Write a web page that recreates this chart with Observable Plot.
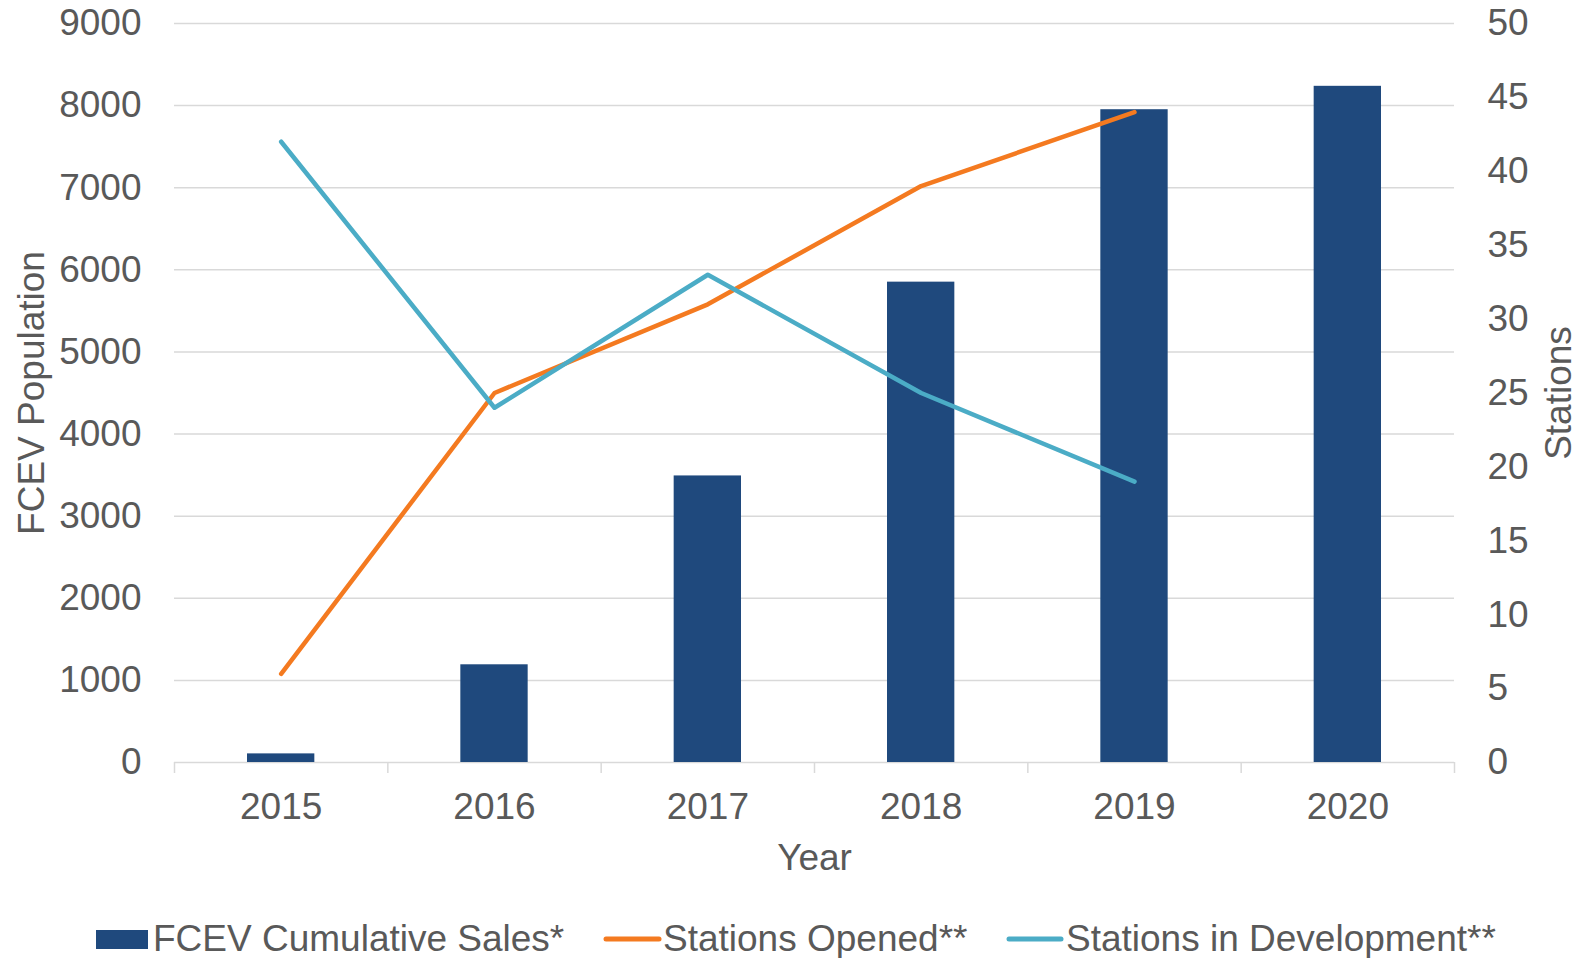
<!DOCTYPE html>
<html><head><meta charset="utf-8">
<script src="https://cdn.jsdelivr.net/npm/d3@7"></script>
<script src="https://cdn.jsdelivr.net/npm/@observablehq/plot@0.6"></script>
<style>
body{margin:0;background:#fff;font-family:"Liberation Sans",Arial,sans-serif;}
#chart svg{display:block;}
</style>
</head><body><div id="chart"></div><script>
const years = [2015, 2016, 2017, 2018, 2019, 2020];
const sales = [105, 1190, 3490, 5850, 7950, 8235];
const lineYears = [2015, 2016, 2017, 2018, 2019];
const stationsOpened = [6, 25, 31, 39, 44];
const stationsInDev = [42, 24, 33, 25, 19];
const leftTicks = [0, 1000, 2000, 3000, 4000, 5000, 6000, 7000, 8000, 9000];
const rightTicks = [0, 5, 10, 15, 20, 25, 30, 35, 40, 45, 50];
const seriesNames = ["FCEV Cumulative Sales*", "Stations Opened**", "Stations in Development**"];
const colors = ["#1F497D", "#F47A20", "#4BACC6"];

const ratio = 9000 / 50;
const textColor = "#595959";
const gridColor = "#d9d9d9";

const barData = years.map((y, i) => ({year: y, v: sales[i]}));
const openedData = lineYears.map((y, i) => ({year: y, v: stationsOpened[i] * ratio}));
const devData = lineYears.map((y, i) => ({year: y, v: stationsInDev[i] * ratio}));
const boundaries = years.map(y => y - 0.5).concat([years[years.length - 1] + 0.5]);

const chart = Plot.plot({
  width: 1583,
  height: 890,
  marginLeft: 174,
  marginRight: 129,
  marginTop: 23,
  marginBottom: 128,
  style: {fontFamily: '"Liberation Sans", Arial, sans-serif', fontSize: "37px", color: textColor, background: "white", overflow: "visible"},
  x: {type: "linear", domain: [boundaries[0], boundaries[boundaries.length - 1]]},
  y: {type: "linear", domain: [0, 9000]},
  marks: [
    Plot.gridY(leftTicks.slice(1), {stroke: gridColor, strokeOpacity: 1, strokeWidth: 1.5}),
    Plot.ruleY([0], {stroke: gridColor, strokeWidth: 1.5}),
    Plot.axisX(boundaries, {anchor: "bottom", tickSize: 11, tickFormat: () => "", stroke: gridColor, strokeWidth: 1.5, label: null}),
    Plot.axisX(years, {anchor: "bottom", tickSize: 0, tickPadding: 30, tickFormat: d => String(d), label: null, fontSize: 37, fill: textColor}),
    Plot.axisY(leftTicks, {anchor: "left", tickSize: 0, tickPadding: 33, label: null, fontSize: 37, fill: textColor, tickFormat: d => String(d)}),
    Plot.axisY(rightTicks.map(v => v * ratio), {anchor: "right", tickSize: 0, tickPadding: 33, label: null, fontSize: 37, fill: textColor, tickFormat: d => String(Math.round(d / ratio))}),
    Plot.rectY(barData, {x1: d => d.year - 0.5, x2: d => d.year + 0.5, y: "v", insetLeft: 73, insetRight: 73, fill: colors[0]}),
    Plot.line(openedData, {x: "year", y: "v", stroke: colors[1], strokeWidth: 4.5, strokeLinecap: "round", strokeLinejoin: "round"}),
    Plot.line(devData, {x: "year", y: "v", stroke: colors[2], strokeWidth: 4.5, strokeLinecap: "round", strokeLinejoin: "round"}),
    Plot.text(["FCEV Population"], {text: d => d, frameAnchor: "left", textAnchor: "middle", rotate: -90, dx: -142, fontSize: 37, fill: textColor}),
    Plot.text(["Stations"], {text: d => d, frameAnchor: "right", textAnchor: "middle", rotate: -90, dx: 105, fontSize: 37, fill: textColor}),
    Plot.text(["Year"], {text: d => d, frameAnchor: "bottom", dy: 107, fontSize: 37, fill: textColor})
  ]
});
document.getElementById("chart").appendChild(chart);

// Legend below the chart
const ns = "http://www.w3.org/2000/svg";
const leg = document.createElementNS(ns, "svg");
leg.setAttribute("width", 1583);
leg.setAttribute("height", 68);
leg.style.display = "block";
leg.style.fontFamily = '"Liberation Sans", Arial, sans-serif';
const items = [
  {type: "rect", x: 96, w: 52, tx: 153},
  {type: "line", x: 604, w: 57, tx: 663},
  {type: "line", x: 1007, w: 56, tx: 1066}
];
items.forEach((it, i) => {
  if (it.type === "rect") {
    const r = document.createElementNS(ns, "rect");
    r.setAttribute("x", it.x); r.setAttribute("y", 40);
    r.setAttribute("width", it.w); r.setAttribute("height", 19);
    r.setAttribute("fill", colors[i]);
    leg.appendChild(r);
  } else {
    const l = document.createElementNS(ns, "line");
    l.setAttribute("x1", it.x + 2); l.setAttribute("x2", it.x + it.w - 2);
    l.setAttribute("y1", 49); l.setAttribute("y2", 49);
    l.setAttribute("stroke", colors[i]); l.setAttribute("stroke-width", 5);
    l.setAttribute("stroke-linecap", "round");
    leg.appendChild(l);
  }
  const t = document.createElementNS(ns, "text");
  t.setAttribute("x", it.tx); t.setAttribute("y", 61);
  t.setAttribute("font-size", 37); t.setAttribute("fill", textColor);
  t.textContent = seriesNames[i];
  leg.appendChild(t);
});
document.getElementById("chart").appendChild(leg);
</script></body></html>
